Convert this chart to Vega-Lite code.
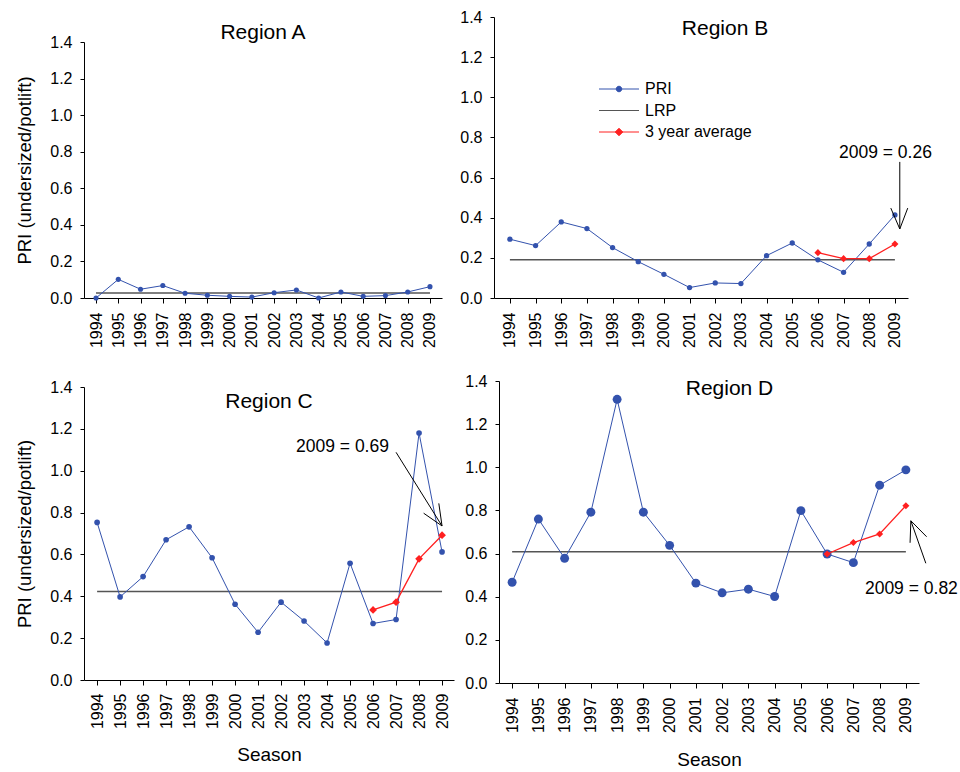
{
  "$schema": "https://vega.github.io/schema/vega-lite/v6.json",
  "autosize": {"type": "pad"},
  "padding": {"left": 15, "top": 9, "right": 2, "bottom": 5},
  "background": "white",
  "config": {
    "font": "Liberation Sans",
    "view": {"stroke": null},
    "axis": {
      "domainColor": "#000", "tickColor": "#000", "labelColor": "#000", "titleColor": "#000",
      "labelFont": "Liberation Sans", "titleFont": "Liberation Sans", "labelFontSize": 16,
      "titleFontWeight": "normal", "grid": false, "domainWidth": 1, "tickWidth": 1
    },
    "title": {"font": "Liberation Sans", "fontSize": 21, "fontWeight": "normal", "color": "#000", "frame": "group", "baseline": "alphabetic", "anchor": "middle"}
  },
  "datasets": {
    "pri": [
      {"panel": "A", "season": 1994, "pri": 0.0, "series": "PRI"},
      {"panel": "A", "season": 1995, "pri": 0.102, "series": "PRI"},
      {"panel": "A", "season": 1996, "pri": 0.048, "series": "PRI"},
      {"panel": "A", "season": 1997, "pri": 0.068, "series": "PRI"},
      {"panel": "A", "season": 1998, "pri": 0.026, "series": "PRI"},
      {"panel": "A", "season": 1999, "pri": 0.015, "series": "PRI"},
      {"panel": "A", "season": 2000, "pri": 0.009, "series": "PRI"},
      {"panel": "A", "season": 2001, "pri": 0.005, "series": "PRI"},
      {"panel": "A", "season": 2002, "pri": 0.029, "series": "PRI"},
      {"panel": "A", "season": 2003, "pri": 0.044, "series": "PRI"},
      {"panel": "A", "season": 2004, "pri": 0.0, "series": "PRI"},
      {"panel": "A", "season": 2005, "pri": 0.033, "series": "PRI"},
      {"panel": "A", "season": 2006, "pri": 0.009, "series": "PRI"},
      {"panel": "A", "season": 2007, "pri": 0.013, "series": "PRI"},
      {"panel": "A", "season": 2008, "pri": 0.033, "series": "PRI"},
      {"panel": "A", "season": 2009, "pri": 0.062, "series": "PRI"},
      {"panel": "B", "season": 1994, "pri": 0.293, "series": "PRI"},
      {"panel": "B", "season": 1995, "pri": 0.261, "series": "PRI"},
      {"panel": "B", "season": 1996, "pri": 0.379, "series": "PRI"},
      {"panel": "B", "season": 1997, "pri": 0.346, "series": "PRI"},
      {"panel": "B", "season": 1998, "pri": 0.251, "series": "PRI"},
      {"panel": "B", "season": 1999, "pri": 0.181, "series": "PRI"},
      {"panel": "B", "season": 2000, "pri": 0.118, "series": "PRI"},
      {"panel": "B", "season": 2001, "pri": 0.052, "series": "PRI"},
      {"panel": "B", "season": 2002, "pri": 0.075, "series": "PRI"},
      {"panel": "B", "season": 2003, "pri": 0.072, "series": "PRI"},
      {"panel": "B", "season": 2004, "pri": 0.211, "series": "PRI"},
      {"panel": "B", "season": 2005, "pri": 0.274, "series": "PRI"},
      {"panel": "B", "season": 2006, "pri": 0.19, "series": "PRI"},
      {"panel": "B", "season": 2007, "pri": 0.128, "series": "PRI"},
      {"panel": "B", "season": 2008, "pri": 0.269, "series": "PRI"},
      {"panel": "B", "season": 2009, "pri": 0.414, "series": "PRI"},
      {"panel": "C", "season": 1994, "pri": 0.753, "series": "PRI"},
      {"panel": "C", "season": 1995, "pri": 0.397, "series": "PRI"},
      {"panel": "C", "season": 1996, "pri": 0.494, "series": "PRI"},
      {"panel": "C", "season": 1997, "pri": 0.67, "series": "PRI"},
      {"panel": "C", "season": 1998, "pri": 0.732, "series": "PRI"},
      {"panel": "C", "season": 1999, "pri": 0.584, "series": "PRI"},
      {"panel": "C", "season": 2000, "pri": 0.362, "series": "PRI"},
      {"panel": "C", "season": 2001, "pri": 0.228, "series": "PRI"},
      {"panel": "C", "season": 2002, "pri": 0.372, "series": "PRI"},
      {"panel": "C", "season": 2003, "pri": 0.282, "series": "PRI"},
      {"panel": "C", "season": 2004, "pri": 0.177, "series": "PRI"},
      {"panel": "C", "season": 2005, "pri": 0.558, "series": "PRI"},
      {"panel": "C", "season": 2006, "pri": 0.27, "series": "PRI"},
      {"panel": "C", "season": 2007, "pri": 0.289, "series": "PRI"},
      {"panel": "C", "season": 2008, "pri": 1.18, "series": "PRI"},
      {"panel": "C", "season": 2009, "pri": 0.612, "series": "PRI"},
      {"panel": "D", "season": 1994, "pri": 0.467, "series": "PRI"},
      {"panel": "D", "season": 1995, "pri": 0.76, "series": "PRI"},
      {"panel": "D", "season": 1996, "pri": 0.578, "series": "PRI"},
      {"panel": "D", "season": 1997, "pri": 0.792, "series": "PRI"},
      {"panel": "D", "season": 1998, "pri": 1.315, "series": "PRI"},
      {"panel": "D", "season": 1999, "pri": 0.792, "series": "PRI"},
      {"panel": "D", "season": 2000, "pri": 0.638, "series": "PRI"},
      {"panel": "D", "season": 2001, "pri": 0.463, "series": "PRI"},
      {"panel": "D", "season": 2002, "pri": 0.418, "series": "PRI"},
      {"panel": "D", "season": 2003, "pri": 0.435, "series": "PRI"},
      {"panel": "D", "season": 2004, "pri": 0.401, "series": "PRI"},
      {"panel": "D", "season": 2005, "pri": 0.799, "series": "PRI"},
      {"panel": "D", "season": 2006, "pri": 0.598, "series": "PRI"},
      {"panel": "D", "season": 2007, "pri": 0.558, "series": "PRI"},
      {"panel": "D", "season": 2008, "pri": 0.917, "series": "PRI"},
      {"panel": "D", "season": 2009, "pri": 0.988, "series": "PRI"}
    ],
    "lrp": [
      {"panel": "A", "season": 1994, "pri": 0.027, "series": "LRP"},
      {"panel": "A", "season": 2009, "pri": 0.027, "series": "LRP"},
      {"panel": "B", "season": 1994, "pri": 0.19, "series": "LRP"},
      {"panel": "B", "season": 2009, "pri": 0.19, "series": "LRP"},
      {"panel": "C", "season": 1994, "pri": 0.423, "series": "LRP"},
      {"panel": "C", "season": 2009, "pri": 0.423, "series": "LRP"},
      {"panel": "D", "season": 1994, "pri": 0.609, "series": "LRP"},
      {"panel": "D", "season": 2009, "pri": 0.609, "series": "LRP"}
    ],
    "avg": [
      {"panel": "B", "season": 2006, "pri": 0.226, "series": "3 year average"},
      {"panel": "B", "season": 2007, "pri": 0.196, "series": "3 year average"},
      {"panel": "B", "season": 2008, "pri": 0.196, "series": "3 year average"},
      {"panel": "B", "season": 2009, "pri": 0.269, "series": "3 year average"},
      {"panel": "C", "season": 2006, "pri": 0.335, "series": "3 year average"},
      {"panel": "C", "season": 2007, "pri": 0.372, "series": "3 year average"},
      {"panel": "C", "season": 2008, "pri": 0.579, "series": "3 year average"},
      {"panel": "C", "season": 2009, "pri": 0.692, "series": "3 year average"},
      {"panel": "D", "season": 2006, "pri": 0.598, "series": "3 year average"},
      {"panel": "D", "season": 2007, "pri": 0.651, "series": "3 year average"},
      {"panel": "D", "season": 2008, "pri": 0.691, "series": "3 year average"},
      {"panel": "D", "season": 2009, "pri": 0.822, "series": "3 year average"}
    ],
    "arrows": [
      {"panel": "B", "season": 2009.19, "pri": 0.678, "season2": 2009.19, "pri2": 0.344},
      {"panel": "B", "season": 2008.84, "pri": 0.448, "season2": 2009.19, "pri2": 0.344},
      {"panel": "B", "season": 2009.5, "pri": 0.448, "season2": 2009.19, "pri2": 0.344},
      {"panel": "C", "season": 2007.0, "pri": 1.088, "season2": 2009.0, "pri2": 0.736},
      {"panel": "C", "season": 2008.2, "pri": 0.797, "season2": 2009.0, "pri2": 0.736},
      {"panel": "C", "season": 2008.86, "pri": 0.844, "season2": 2009.0, "pri2": 0.736},
      {"panel": "D", "season": 2009.76, "pri": 0.555, "season2": 2009.19, "pri2": 0.752},
      {"panel": "D", "season": 2009.16, "pri": 0.65, "season2": 2009.19, "pri2": 0.752},
      {"panel": "D", "season": 2009.79, "pri": 0.678, "season2": 2009.19, "pri2": 0.752}
    ],
    "notes": [
      {"panel": "B", "season": 2008.63, "pri": 0.722, "text": "2009 = 0.26"},
      {"panel": "C", "season": 2004.67, "pri": 1.115, "text": "2009 = 0.69"},
      {"panel": "D", "season": 2009.21, "pri": 0.436, "text": "2009 = 0.82"}
    ]
  },
  "bounds": "flush",
  "align": "each",
  "columns": 2,
  "spacing": {"row": 83, "column": 40},
  "resolve": {"scale": {"color": "independent"}, "legend": {"color": "independent"}},
  "concat": [
    {
      "width": 358, "height": 281,
      "title": {"text": "Region A", "offset": -26},
      "encoding": {
        "x": {"field": "season", "type": "quantitative", "scale": {"domain": [1993.46, 2009.54], "nice": false, "zero": false},
          "axis": {"values": [1994,1995,1996,1997,1998,1999,2000,2001,2002,2003,2004,2005,2006,2007,2008,2009], "format": "d", "labelAngle": 270, "labelFlush": false, "labelOverlap": false, "tickSize": 5, "labelPadding": 9, "title": null}},
        "y": {"field": "pri", "type": "quantitative", "scale": {"domain": [0, 1.4], "nice": false, "zero": false, "range": [281, 25]},
          "axis": {"values": [0,0.2,0.4,0.6,0.8,1,1.2,1.4], "format": ".1f", "labelFlush": false, "labelOverlap": false, "tickSize": 4, "labelPadding": 8, "title": "PRI (undersized/potlift)", "titleFontSize": 18.5, "titlePadding": 15}}
      },
      "layer": [
        {"data": {"name": "lrp"}, "transform": [{"filter": "datum.panel === 'A'"}], "mark": {"type": "line", "color": "#555555", "strokeWidth": 1.5}},
        {"data": {"name": "pri"}, "transform": [{"filter": "datum.panel === 'A'"}], "mark": {"type": "line", "color": "#3352ad", "strokeWidth": 1, "point": {"filled": true, "size": 26, "color": "#3352ad"}}}
      ]
    },
    {
      "width": 414, "height": 281,
      "title": {"text": "Region B", "offset": -30, "dx": 24},
      "encoding": {
        "x": {"field": "season", "type": "quantitative", "scale": {"domain": [1993.38, 2009.51], "nice": false, "zero": false},
          "axis": {"values": [1994,1995,1996,1997,1998,1999,2000,2001,2002,2003,2004,2005,2006,2007,2008,2009], "format": "d", "labelAngle": 270, "labelFlush": false, "labelOverlap": false, "tickSize": 5, "labelPadding": 9, "title": null}},
        "y": {"field": "pri", "type": "quantitative", "scale": {"domain": [0, 1.4], "nice": false, "zero": false},
          "axis": {"values": [0,0.2,0.4,0.6,0.8,1,1.2,1.4], "format": ".1f", "labelFlush": false, "labelOverlap": false, "tickSize": 4, "labelPadding": 8, "title": null}}
      },
      "layer": [
        {"data": {"name": "lrp"}, "transform": [{"filter": "datum.panel === 'B'"}], "mark": {"type": "line", "strokeWidth": 1.5},
          "encoding": {"color": {"field": "series", "type": "nominal",
            "scale": {"domain": ["PRI", "LRP", "3 year average"], "range": ["#3352ad", "#555555", "#ff2020"]},
            "legend": {"orient": "none", "legendX": 117, "legendY": 64, "title": null, "padding": 0, "symbolSize": 100,
              "labelFontSize": 16, "labelFont": "Liberation Sans", "labelColor": "#000", "labelOffset": 18, "rowPadding": 5.5,
              "encode": {"symbols": {"update": {
                "shape": {"signal": "datum.value === 'PRI' ? 'M-4,0H4M-0.55,0A0.55,0.55,0,1,1,0.55,0A0.55,0.55,0,1,1,-0.55,0Z' : datum.value === 'LRP' ? 'M-4,0H4' : 'M-4,0H4M0,-0.75L0.75,0L0,0.75L-0.75,0Z'"},
                "fill": {"signal": "datum.value === 'PRI' ? '#3352ad' : datum.value === 'LRP' ? 'transparent' : '#ff2020'"},
                "stroke": {"signal": "datum.value === 'PRI' ? '#3352ad' : datum.value === 'LRP' ? '#555555' : '#ff2020'"},
                "strokeWidth": {"value": 1},
                "opacity": {"value": 1}, "fillOpacity": {"value": 1}, "strokeOpacity": {"value": 1}
              }}}}}}},
        {"data": {"name": "pri"}, "transform": [{"filter": "datum.panel === 'B'"}], "mark": {"type": "line", "strokeWidth": 1, "point": {"filled": true, "size": 28}},
          "encoding": {"color": {"field": "series", "type": "nominal", "scale": {"domain": ["PRI", "LRP", "3 year average"], "range": ["#3352ad", "#555555", "#ff2020"]}}}},
        {"data": {"name": "avg"}, "transform": [{"filter": "datum.panel === 'B'"}], "mark": {"type": "line", "strokeWidth": 1.3, "point": {"filled": true, "size": 50, "shape": "diamond"}},
          "encoding": {"color": {"field": "series", "type": "nominal", "scale": {"domain": ["PRI", "LRP", "3 year average"], "range": ["#3352ad", "#555555", "#ff2020"]}}}},
        {"data": {"name": "arrows"}, "transform": [{"filter": "datum.panel === 'B'"}], "mark": {"type": "rule", "color": "#000", "strokeWidth": 1},
          "encoding": {"x2": {"field": "season2"}, "y2": {"field": "pri2"}}},
        {"data": {"name": "notes"}, "transform": [{"filter": "datum.panel === 'B'"}], "mark": {"type": "text", "fontSize": 17.5, "font": "Liberation Sans", "color": "#000", "align": "center", "baseline": "middle"},
          "encoding": {"text": {"field": "text"}}}
      ]
    },
    {
      "width": 370, "height": 302,
      "title": {"text": "Region C", "offset": -33},
      "encoding": {
        "x": {"field": "season", "type": "quantitative", "scale": {"domain": [1993.43, 2009.52], "nice": false, "zero": false},
          "axis": {"values": [1994,1995,1996,1997,1998,1999,2000,2001,2002,2003,2004,2005,2006,2007,2008,2009], "format": "d", "labelAngle": 270, "labelFlush": false, "labelOverlap": false, "tickSize": 5, "labelPadding": 8, "offset": -3, "title": "Season", "titleFontSize": 19, "titlePadding": 17}},
        "y": {"field": "pri", "type": "quantitative", "scale": {"domain": [0, 1.4], "nice": false, "zero": false, "range": [299, 6]},
          "axis": {"values": [0,0.2,0.4,0.6,0.8,1,1.2,1.4], "format": ".1f", "labelFlush": false, "labelOverlap": false, "tickSize": 4, "labelPadding": 8, "title": "PRI (undersized/potlift)", "titleFontSize": 18.5, "titlePadding": 15}}
      },
      "layer": [
        {"data": {"name": "lrp"}, "transform": [{"filter": "datum.panel === 'C'"}], "mark": {"type": "line", "color": "#555555", "strokeWidth": 1.5}},
        {"data": {"name": "pri"}, "transform": [{"filter": "datum.panel === 'C'"}], "mark": {"type": "line", "color": "#3352ad", "strokeWidth": 1, "point": {"filled": true, "size": 32, "color": "#3352ad"}}},
        {"data": {"name": "avg"}, "transform": [{"filter": "datum.panel === 'C'"}], "mark": {"type": "line", "color": "#ff2020", "strokeWidth": 1.3, "point": {"filled": true, "size": 60, "shape": "diamond", "color": "#ff2020"}}},
        {"data": {"name": "arrows"}, "transform": [{"filter": "datum.panel === 'C'"}], "mark": {"type": "rule", "color": "#000", "strokeWidth": 1},
          "encoding": {"x2": {"field": "season2"}, "y2": {"field": "pri2"}}},
        {"data": {"name": "notes"}, "transform": [{"filter": "datum.panel === 'C'"}], "mark": {"type": "text", "fontSize": 17.5, "font": "Liberation Sans", "color": "#000", "align": "center", "baseline": "middle"},
          "encoding": {"text": {"field": "text"}}}
      ]
    },
    {
      "width": 425, "height": 302,
      "title": {"text": "Region D", "offset": -26, "dx": 23},
      "encoding": {
        "x": {"field": "season", "type": "quantitative", "scale": {"domain": [1993.5, 2009.5], "nice": false, "zero": false, "range": [5, 425]},
          "axis": {"values": [1994,1995,1996,1997,1998,1999,2000,2001,2002,2003,2004,2005,2006,2007,2008,2009], "format": "d", "labelAngle": 270, "labelFlush": false, "labelOverlap": false, "tickSize": 5, "labelPadding": 9, "title": "Season", "titleFontSize": 19, "titlePadding": 18}},
        "y": {"field": "pri", "type": "quantitative", "scale": {"domain": [0, 1.4], "nice": false, "zero": false},
          "axis": {"values": [0,0.2,0.4,0.6,0.8,1,1.2,1.4], "format": ".1f", "labelFlush": false, "labelOverlap": false, "tickSize": 4, "labelPadding": 8, "offset": -5, "title": null}}
      },
      "layer": [
        {"data": {"name": "lrp"}, "transform": [{"filter": "datum.panel === 'D'"}], "mark": {"type": "line", "color": "#555555", "strokeWidth": 1.5}},
        {"data": {"name": "pri"}, "transform": [{"filter": "datum.panel === 'D'"}], "mark": {"type": "line", "color": "#3352ad", "strokeWidth": 1, "point": {"filled": true, "size": 80, "color": "#3352ad"}}},
        {"data": {"name": "avg"}, "transform": [{"filter": "datum.panel === 'D'"}], "mark": {"type": "line", "color": "#ff2020", "strokeWidth": 1.3, "point": {"filled": true, "size": 50, "shape": "diamond", "color": "#ff2020"}}},
        {"data": {"name": "arrows"}, "transform": [{"filter": "datum.panel === 'D'"}], "mark": {"type": "rule", "color": "#000", "strokeWidth": 1},
          "encoding": {"x2": {"field": "season2"}, "y2": {"field": "pri2"}}},
        {"data": {"name": "notes"}, "transform": [{"filter": "datum.panel === 'D'"}], "mark": {"type": "text", "fontSize": 17.5, "font": "Liberation Sans", "color": "#000", "align": "center", "baseline": "middle"},
          "encoding": {"text": {"field": "text"}}}
      ]
    }
  ]
}
